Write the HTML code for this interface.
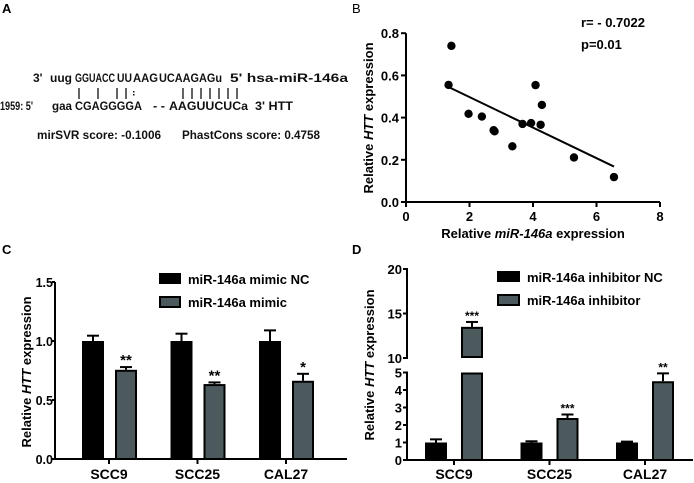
<!DOCTYPE html>
<html><head><meta charset="utf-8"><style>
body{margin:0;background:#fff}
svg{display:block;font-family:"Liberation Sans",Arial,sans-serif}
</style></head><body>
<svg id="fig" width="694" height="483" viewBox="0 0 694 483">
<g font-weight="bold" font-size="13">
<text x="2" y="13">A</text>
<text x="352" y="13" font-weight="normal">B</text>
<text x="2" y="254">C</text>
<text x="352" y="254">D</text>
</g>
<g id="panelA" font-size="12" font-weight="bold" fill="#111">
<text x="33" y="82">3'</text>
<text x="50" y="82" textLength="22" lengthAdjust="spacingAndGlyphs">uug</text>
<text x="75" y="82" textLength="40" lengthAdjust="spacingAndGlyphs">GGUACC</text>
<text x="117" y="82" textLength="15" lengthAdjust="spacingAndGlyphs">UU</text>
<text x="133" y="82" textLength="25" lengthAdjust="spacingAndGlyphs">AAG</text>
<text x="159" y="82" textLength="63" lengthAdjust="spacingAndGlyphs">UCAAGAGu</text>
<text x="230" y="82" textLength="118" lengthAdjust="spacingAndGlyphs">5' hsa-miR-146a</text>
<text x="0" y="110" textLength="33" lengthAdjust="spacingAndGlyphs">1959: 5'</text>
<text x="52" y="110" textLength="20" lengthAdjust="spacingAndGlyphs">gaa</text>
<text x="75" y="110" textLength="67" lengthAdjust="spacingAndGlyphs">CGAGGGGA</text>
<text x="153" y="110" textLength="12" lengthAdjust="spacingAndGlyphs">- -</text>
<text x="169" y="110" textLength="79" lengthAdjust="spacingAndGlyphs">AAGUUCUCa</text>
<text x="255" y="110" textLength="38" lengthAdjust="spacingAndGlyphs">3' HTT</text>
<text x="37" y="139" textLength="124" lengthAdjust="spacingAndGlyphs">mirSVR score: -0.1006</text>
<text x="182" y="139" textLength="138" lengthAdjust="spacingAndGlyphs">PhastCons score: 0.4758</text>
<g stroke="#111" stroke-width="1.3">
<line x1="79" y1="88" x2="79" y2="99"/><line x1="98" y1="88" x2="98" y2="99"/>
<line x1="117" y1="88" x2="117" y2="99"/><line x1="126" y1="88" x2="126" y2="99"/>
<line x1="183" y1="88" x2="183" y2="99"/><line x1="192" y1="88" x2="192" y2="99"/>
<line x1="201" y1="88" x2="201" y2="99"/><line x1="210" y1="88" x2="210" y2="99"/>
<line x1="219" y1="88" x2="219" y2="99"/><line x1="228" y1="88" x2="228" y2="99"/>
<line x1="237" y1="88" x2="237" y2="99"/>
</g>
<rect x="133" y="91" width="1.5" height="1.5"/><rect x="133" y="94" width="1.5" height="1.5"/>
</g>
<g id="B"></g><g id="C"></g><g id="D"></g>
</svg>
<script>
const NS='http://www.w3.org/2000/svg';
function mk(p,t,a,txt){const e=document.createElementNS(NS,t);for(const k in a)e.setAttribute(k,a[k]);if(txt!==undefined)e.textContent=txt;p.appendChild(e);return e;}

// ---- Panel B data ----
const scatterX=[1.34,1.43,1.97,2.39,2.76,2.79,3.35,3.67,3.94,4.08,4.28,4.24,5.29,6.55];
const scatterY=[0.555,0.74,0.418,0.405,0.34,0.335,0.264,0.37,0.374,0.554,0.46,0.366,0.211,0.118];
const fitLine=[[1.34,0.545],[6.55,0.168]];
const bXTicks=[0,2,4,6,8];
const bYTicks=['0.0','0.2','0.4','0.6','0.8'];

// ---- Panel C data ----
const cCats=['SCC9','SCC25','CAL27'];
const cNC=[1,1,1];
const cNCerr=[0.045,0.062,0.09];
const cMimic=[0.756,0.635,0.663];
const cMimicErr=[0.023,0.014,0.059];
const cSig=['**','**','*'];
const cYTicks=['0.0','0.5','1.0','1.5'];

// ---- Panel D data ----
const dCats=['SCC9','SCC25','CAL27'];
const dNC=[1,1,1];
const dNCerr=[0.18,0.07,0.05];
const dInh=[13.5,2.4,4.5];
const dInhErr=[0.55,0.2,0.45];
const dSig=['***','***','**'];
const dLowTicks=[0,1,2,3,4,5];
const dHighTicks=[10,15,20];

const BW='bold';
// ===== B =====
(function(){
 const g=document.getElementById('B');
 
 const sx=v=>406+v*31.75, sy=v=>202-v*211;
 const ax=mk(g,'path',{d:`M406,${sy(0.8)} V202 H${sx(8)}`,stroke:'#000','stroke-width':2,fill:'none'});
 
 bXTicks.forEach(t=>{mk(g,'line',{x1:sx(t),x2:sx(t),y1:202,y2:207,stroke:'#000','stroke-width':2});
  const l=mk(g,'text',{x:sx(t),y:221,'text-anchor':'middle','font-size':13,'font-weight':BW},String(t));
  });
 bYTicks.forEach(t=>{const y=sy(+t);mk(g,'line',{x1:401,x2:406,y1:y,y2:y,stroke:'#000','stroke-width':2});
  const l=mk(g,'text',{x:399,y:y+5,'text-anchor':'end','font-size':13,'font-weight':BW},t);
  });
 const fl=mk(g,'line',{x1:sx(fitLine[0][0]),y1:sy(fitLine[0][1]),x2:sx(fitLine[1][0]),y2:sy(fitLine[1][1]),stroke:'#000','stroke-width':2});
 
 scatterX.forEach((x,i)=>{const c=mk(g,'circle',{cx:sx(x),cy:sy(scatterY[i]),r:4.2,fill:'#000'});
  });
 const yt=mk(g,'text',{transform:'translate(373,118) rotate(-90)','text-anchor':'middle','font-size':13,'font-weight':BW});
 
 yt.innerHTML='Relative <tspan font-style="italic">HTT</tspan> expression';
 const xt=mk(g,'text',{x:533,y:238,'text-anchor':'middle','font-size':13,'font-weight':BW});
 
 xt.innerHTML='Relative <tspan font-style="italic">miR-146a</tspan> expression';
 const r=mk(g,'text',{x:581,y:27,'font-size':13,'font-weight':BW},'r= - 0.7022');
 
 const p=mk(g,'text',{x:581,y:49,'font-size':13,'font-weight':BW},'p=0.01');
 
})();

function legend(g,x,y1,y2,a,b,w){
 const l1=mk(g,'rect',{x:x,y:y1-6,width:w,height:11,fill:'#000'});
 
 const t1=mk(g,'text',{x:x+w+7,y:y1+5,'font-size':13,'font-weight':BW},a);
 
 const l2=mk(g,'rect',{x:x+1,y:y2-5,width:w-2,height:10,fill:'#4c5a5e',stroke:'#000','stroke-width':2});
 
 const t2=mk(g,'text',{x:x+w+7,y:y2+5,'font-size':13,'font-weight':BW},b);
 
}
function bar(g,x,w,yTop,yBot,fill,name){
 const r=mk(g,'rect',{x:x+1,y:yTop+1,width:w-2,height:Math.max(0,yBot-yTop-1),fill:fill,stroke:'#000','stroke-width':2});
 return r;
}
function err(g,cx,y1,y2){mk(g,'line',{x1:cx,x2:cx,y1:y1,y2:y2,stroke:'#000','stroke-width':2});
 mk(g,'line',{x1:cx-6,x2:cx+6,y1:y2,y2:y2,stroke:'#000','stroke-width':2});}

// ===== C =====
(function(){
 const g=document.getElementById('C');
 
 const y0=459, sy=v=>y0-v*118, cx=i=>109+i*88.5, W=22;
 mk(g,'path',{d:`M55,${sy(1.5)} V${y0} H347`,stroke:'#000','stroke-width':2,fill:'none'});
 cYTicks.forEach(t=>{const y=sy(+t);mk(g,'line',{x1:52,x2:55,y1:y,y2:y,stroke:'#000','stroke-width':2});
  const l=mk(g,'text',{x:53,y:y+5,'text-anchor':'end','font-size':12.5,'font-weight':BW},t);
  });
 cCats.forEach((c,i)=>{const x=cx(i);
  mk(g,'line',{x1:x,x2:x,y1:y0,y2:y0+5,stroke:'#000','stroke-width':2});
  const l=mk(g,'text',{x:x,y:479,'text-anchor':'middle','font-size':14,'font-weight':BW},c);
  
  err(g,x-16,sy(cNC[i]),sy(cNC[i]+cNCerr[i]));
  bar(g,x-27,W,sy(cNC[i]),y0,'#000','bar-control-'+c.toLowerCase());
  err(g,x+17,sy(cMimic[i]),sy(cMimic[i]+cMimicErr[i]));
  bar(g,x+6,W,sy(cMimic[i]),y0,'#4c5a5e','bar-mimic-'+c.toLowerCase());
  const s=mk(g,'text',{x:x+17,y:sy(cMimic[i]+cMimicErr[i])-2,'text-anchor':'middle','font-size':15,'font-weight':BW},cSig[i]);
  });
 const yt=mk(g,'text',{transform:'translate(31,372) rotate(-90)','text-anchor':'middle','font-size':13,'font-weight':BW});
 
 yt.innerHTML='Relative <tspan font-style="italic">HTT</tspan> expression';
 legend(g,159,279,302,'miR-146a mimic NC','miR-146a mimic',22);
})();

// ===== D =====
(function(){
 const g=document.getElementById('D');
 
 const y0=460, syL=v=>y0-v*17.5, syH=v=>358-(v-10)*8.9;
 const sy=v=>v<=5?syL(v):(v>=10?syH(v):373);
 const cx=i=>454+i*95.5, W=22;
 mk(g,'path',{d:`M403,${syL(5)} H407 V${y0} H693`,stroke:'#000','stroke-width':2,fill:'none'});
 mk(g,'path',{d:`M403,${syH(20)} H407 V${syH(10)} H403`,stroke:'#000','stroke-width':2,fill:'none'});
 dLowTicks.forEach(t=>{const y=syL(t);mk(g,'line',{x1:403,x2:407,y1:y,y2:y,stroke:'#000','stroke-width':2});
  const l=mk(g,'text',{x:402,y:y+5,'text-anchor':'end','font-size':13,'font-weight':BW},String(t));
  });
 dHighTicks.forEach(t=>{const y=syH(t);mk(g,'line',{x1:403,x2:407,y1:y,y2:y,stroke:'#000','stroke-width':2});
  const l=mk(g,'text',{x:402,y:y+5,'text-anchor':'end','font-size':13,'font-weight':BW},String(t));
  });
 dCats.forEach((c,i)=>{const x=cx(i);
  mk(g,'line',{x1:x,x2:x,y1:y0,y2:y0+5,stroke:'#000','stroke-width':2});
  const l=mk(g,'text',{x:x,y:479,'text-anchor':'middle','font-size':14,'font-weight':BW},c);
  
  err(g,x-18,sy(dNC[i]),sy(dNC[i]+dNCerr[i]));
  bar(g,x-29,W,sy(dNC[i]),y0,'#000','bar-control-'+c.toLowerCase());
  const v=dInh[i], ve=v+dInhErr[i];
  err(g,x+18,sy(v),sy(ve));
  if(v>5){
   bar(g,x+7,W,syL(5),y0,'#4c5a5e','bar-inhibitor-'+c.toLowerCase());
   bar(g,x+7,W,sy(v),syH(10)-1,'#4c5a5e','bar-inhibitor-upper-'+c.toLowerCase());
  } else bar(g,x+7,W,sy(v),y0,'#4c5a5e','bar-inhibitor-'+c.toLowerCase());
  const s=mk(g,'text',{x:x+18,y:sy(ve)-2,'text-anchor':'middle','font-size':12,'font-weight':BW},dSig[i]);
  });
 const yt=mk(g,'text',{transform:'translate(374,365) rotate(-90)','text-anchor':'middle','font-size':13,'font-weight':BW});
 
 yt.innerHTML='Relative <tspan font-style="italic">HTT</tspan> expression';
 legend(g,497,277,300,'miR-146a inhibitor NC','miR-146a inhibitor',23);
})();
</script>
</body></html>
